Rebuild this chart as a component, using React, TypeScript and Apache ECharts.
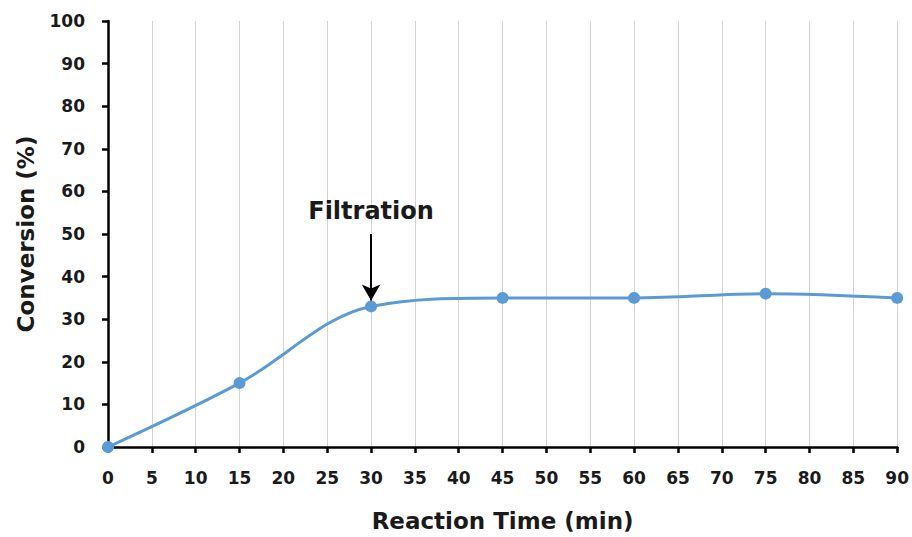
import React, { useEffect, useRef } from "react";
import * as echarts from "echarts";

// Reaction time (min) and conversion (%) measurements
const timeMin = [0, 15, 30, 45, 60, 75, 90];
const conversion = [0, 15, 33, 35, 35, 36, 35];

// Filtration event annotation
const filtrationTime = 30;
const arrowTop = 50;
const arrowTip = 34.4;
const labelY = 55.4;

const FONT = "'DejaVu Sans', sans-serif";
const BLUE = "#5B9BD5";
const TEXT = "#1a1a1a";

export default function App() {
  const ref = useRef<HTMLDivElement>(null);

  useEffect(() => {
    if (!ref.current) return;
    const chart = echarts.init(ref.current, null, { renderer: "svg" });
    chart.setOption({
      animation: false,
      backgroundColor: "#ffffff",
      grid: { left: 108, right: 14, top: 21, bottom: 90, containLabel: false },
      xAxis: {
        type: "value",
        min: 0,
        max: 90,
        interval: 5,
        name: "Reaction Time (min)",
        nameLocation: "middle",
        nameGap: 62,
        nameTextStyle: { fontFamily: FONT, fontWeight: "bold", fontSize: 23, color: TEXT },
        axisLine: { show: true, lineStyle: { color: "#000", width: 2.5 } },
        axisTick: { show: true, length: 6, lineStyle: { color: "#000", width: 2.5 } },
        axisLabel: { fontFamily: FONT, fontWeight: "bold", fontSize: 17, color: TEXT, margin: 22 },
        splitLine: { show: true, lineStyle: { color: "#d4d4d4", width: 1 } },
      },
      yAxis: {
        type: "value",
        min: 0,
        max: 100,
        interval: 10,
        name: "Conversion (%)",
        nameLocation: "middle",
        nameGap: 71,
        nameTextStyle: { fontFamily: FONT, fontWeight: "bold", fontSize: 23, color: TEXT },
        axisLine: { show: true, lineStyle: { color: "#000", width: 2.5 } },
        axisTick: { show: true, length: 6, lineStyle: { color: "#000", width: 2.5 } },
        axisLabel: { fontFamily: FONT, fontWeight: "bold", fontSize: 17, color: TEXT, margin: 23 },
        splitLine: { show: false },
      },
      series: [
        {
          type: "line",
          data: timeMin.map((t, i) => [t, conversion[i]]),
          smooth: 0.35,
          symbol: "circle",
          symbolSize: 12,
          itemStyle: { color: BLUE },
          lineStyle: { color: BLUE, width: 3 },
          z: 3,
          markLine: {
            silent: true,
            symbol: ["none", "arrow"],
            symbolSize: [14, 16],
            label: { show: false },
            lineStyle: { color: "#000", width: 2, type: "solid" },
            data: [
              [
                { coord: [filtrationTime, arrowTop] },
                { coord: [filtrationTime, arrowTip] },
              ],
            ],
          },
          markPoint: {
            silent: true,
            symbol: "circle",
            symbolSize: 0,
            label: {
              show: true,
              formatter: "Filtration",
              fontFamily: FONT,
              fontWeight: "bold",
              fontSize: 24,
              color: TEXT,
            },
            data: [{ coord: [filtrationTime, labelY] }],
          },
        },
      ],
    });
    return () => chart.dispose();
  }, []);

  return (
    <div
      ref={ref}
      style={{ position: "absolute", left: 0, top: 0, width: 912, height: 537 }}
    />
  );
}
